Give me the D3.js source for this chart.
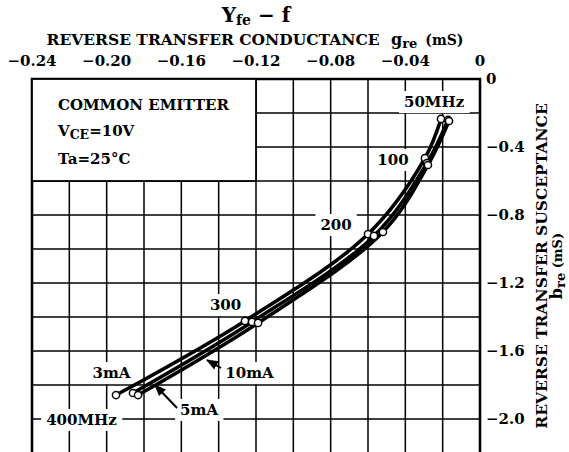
<!DOCTYPE html>
<html>
<head>
<meta charset="utf-8">
<script src="https://cdn.jsdelivr.net/npm/d3@7"></script>
<style>
body { margin: 0; background: #fff; }
text { font-family: "DejaVu Serif", serif; font-weight: bold; fill: #000; }
</style>
</head>
<body>
<div class="chart"></div>
<script>
// frequencies of the marked points and the three collector currents
const freqs = [50, 100, 200, 300, 400];
const currents = ['3mA', '5mA', '10mA'];

// g_re (mS) and b_re (mS), one pair of arrays per current
const g3mA = [-0.0209, -0.0295, -0.0600, -0.1259, -0.1950];
const b3mA = [-0.235, -0.465, -0.912, -1.423, -1.859];
const g5mA = [-0.0171, -0.0284, -0.0568, -0.1221, -0.1859];
const b5mA = [-0.241, -0.494, -0.923, -1.429, -1.847];
const g10mA = [-0.0166, -0.0279, -0.0520, -0.1189, -0.1832];
const b10mA = [-0.247, -0.506, -0.900, -1.435, -1.859];

const xTicks = [-0.24, -0.20, -0.16, -0.12, -0.08, -0.04, 0];
const yTicks = [0, -0.4, -0.8, -1.2, -1.6, -2.0];

const width = 569, height = 452;
const svg = d3.select('.chart').append('svg')
	.attr('width', width)
	.attr('height', height);

const x = d3.scaleLinear().domain([-0.24, 0]).range([32, 480]);
const y = d3.scaleLinear().domain([0, -2.2]).range([79, 453]);

// grid, every 0.02 mS across and 0.2 mS down
const grid = svg.append('g').attr('stroke', '#000').attr('stroke-width', 1.5);
d3.range(0, 13).forEach(i => {
	const gx = x(-0.24 + i * 0.02);
	grid.append('line').attr('x1', gx).attr('x2', gx).attr('y1', y(0)).attr('y2', height);
});
d3.range(0, 12).forEach(i => {
	const gy = y(-i * 0.2);
	grid.append('line').attr('x1', x(-0.24)).attr('x2', x(0)).attr('y1', gy).attr('y2', gy);
});

// frame
svg.append('path')
	.attr('d', `M${x(-0.24)},${height}V${y(0)}H${x(0)}V${height}`)
	.attr('fill', 'none').attr('stroke', '#000').attr('stroke-width', 2.6);

// top axis labels
svg.append('g').selectAll('text').data(xTicks).join('text')
	.attr('x', d => x(d))
	.attr('y', 66)
	.attr('text-anchor', 'middle')
	.attr('font-size', 15)
	.text(d => d === 0 ? '0' : '\u2212' + Math.abs(d).toFixed(2));

// right axis labels
svg.append('g').selectAll('text').data(yTicks).join('text')
	.attr('x', x(0) + 6)
	.attr('y', d => y(d) + 5)
	.attr('font-size', 15)
	.text(d => d === 0 ? '0' : '\u2212' + Math.abs(d).toFixed(1));

// titles
const t = svg.append('text').attr('x', 256).attr('y', 22).attr('text-anchor', 'middle')
	.attr('font-size', 20);
t.append('tspan').text('Y');
t.append('tspan').attr('font-size', 14).attr('dy', 3).text('fe');
t.append('tspan').attr('dy', -3).text(' \u2212 f');

const st = svg.append('text').attr('x', 255).attr('y', 45).attr('text-anchor', 'middle').attr('font-size', 15.5);
st.append('tspan').text('REVERSE TRANSFER CONDUCTANCE ');
st.append('tspan').attr('font-size', 16).attr('dx', 6).text('g');
st.append('tspan').attr('font-size', 13).attr('dy', 3).text('re');
st.append('tspan').attr('dy', -3).attr('dx', 8).attr('font-size', 14).text('(mS)');

const rt = svg.append('g').attr('transform', 'translate(547,266) rotate(-90)');
rt.append('text').attr('text-anchor', 'middle').attr('font-size', 15.5)
	.text('REVERSE TRANSFER SUSCEPTANCE');
const rt2 = rt.append('text').attr('y', 15).attr('text-anchor', 'middle').attr('font-size', 13);
rt2.append('tspan').attr('font-size', 16).text('b');
rt2.append('tspan').attr('font-size', 13).attr('dy', 3).text('re');
rt2.append('tspan').attr('dy', -3).text(' (mS)');

// inset box with the conditions
svg.append('rect')
	.attr('x', x(-0.24)).attr('y', y(0))
	.attr('width', x(-0.12) - x(-0.24)).attr('height', y(-0.6) - y(0))
	.attr('fill', '#fff').attr('stroke', '#000').attr('stroke-width', 1.8);
const inset = svg.append('g').attr('font-size', 15);
inset.append('text').attr('x', 58).attr('y', 110).text('COMMON EMITTER');
const vce = inset.append('text').attr('x', 58).attr('y', 136);
vce.append('tspan').text('V');
vce.append('tspan').attr('font-size', 12.5).attr('dy', 3).text('CE');
vce.append('tspan').attr('dy', -3).text('=10V');
inset.append('text').attr('x', 58).attr('y', 164).text('Ta=25\u00b0C');

// labels with white backing that hides the grid
const labels = [
	{t: '50MHz', g: -0.0246, b: -0.165},
	{t: '100', g: -0.0466, b: -0.506},
	{t: '200', g: -0.0771, b: -0.888},
	{t: '300', g: -0.1363, b: -1.359},
	{t: currents[0], g: -0.1974, b: -1.759},
	{t: currents[2], g: -0.1235, b: -1.759},
	{t: currents[1], g: -0.1505, b: -1.976},
	{t: '400MHz', g: -0.2135, b: -2.035}
];
const lab = svg.append('g');
labels.forEach(l => {
	const grp = lab.append('g');
	const tx = grp.append('text')
		.attr('x', x(l.g)).attr('y', y(l.b))
		.attr('text-anchor', 'middle').attr('font-size', 15)
		.text(l.t);
	const bb = tx.node().getBBox();
	grp.insert('rect', 'text')
		.attr('x', bb.x - 5).attr('y', bb.y - 2)
		.attr('width', bb.width + 10).attr('height', bb.height + 4)
		.attr('fill', '#fff');
});

// curves
const series = [
	{g: g3mA, b: b3mA},
	{g: g5mA, b: b5mA},
	{g: g10mA, b: b10mA}
];
const line = d3.line()
	.x(d => x(d[0])).y(d => y(d[1]))
	.curve(d3.curveCatmullRom.alpha(0.5));

series.forEach(s => {
	const pts = freqs.map((f, i) => [s.g[i], s.b[i]]);
	svg.append('path')
		.attr('d', line(pts))
		.attr('fill', 'none')
		.attr('stroke', '#000')
		.attr('stroke-width', 3.6);
});
series.forEach(s => {
	svg.append('g').selectAll('circle').data(freqs).join('circle')
		.attr('cx', (f, i) => x(s.g[i]))
		.attr('cy', (f, i) => y(s.b[i]))
		.attr('r', 3.6)
		.attr('fill', '#fff')
		.attr('stroke', '#000')
		.attr('stroke-width', 1.5);
});

// arrows from the current labels to their curves
svg.append('defs').append('marker')
	.attr('id', 'ah').attr('viewBox', '0 0 10 10')
	.attr('refX', 9).attr('refY', 5)
	.attr('markerWidth', 6).attr('markerHeight', 6)
	.attr('orient', 'auto')
	.append('path').attr('d', 'M0,1L10,5L0,9Z').attr('fill', '#000');

const arrows = [
	[[-0.1387, -1.700], [-0.1462, -1.653]],
	[[-0.1623, -1.935], [-0.1741, -1.800]]
];
arrows.forEach(a => {
	svg.append('line')
		.attr('x1', x(a[0][0])).attr('y1', y(a[0][1]))
		.attr('x2', x(a[1][0])).attr('y2', y(a[1][1]))
		.attr('stroke', '#000').attr('stroke-width', 2)
		.attr('marker-end', 'url(#ah)');
});
</script>
</body>
</html>
